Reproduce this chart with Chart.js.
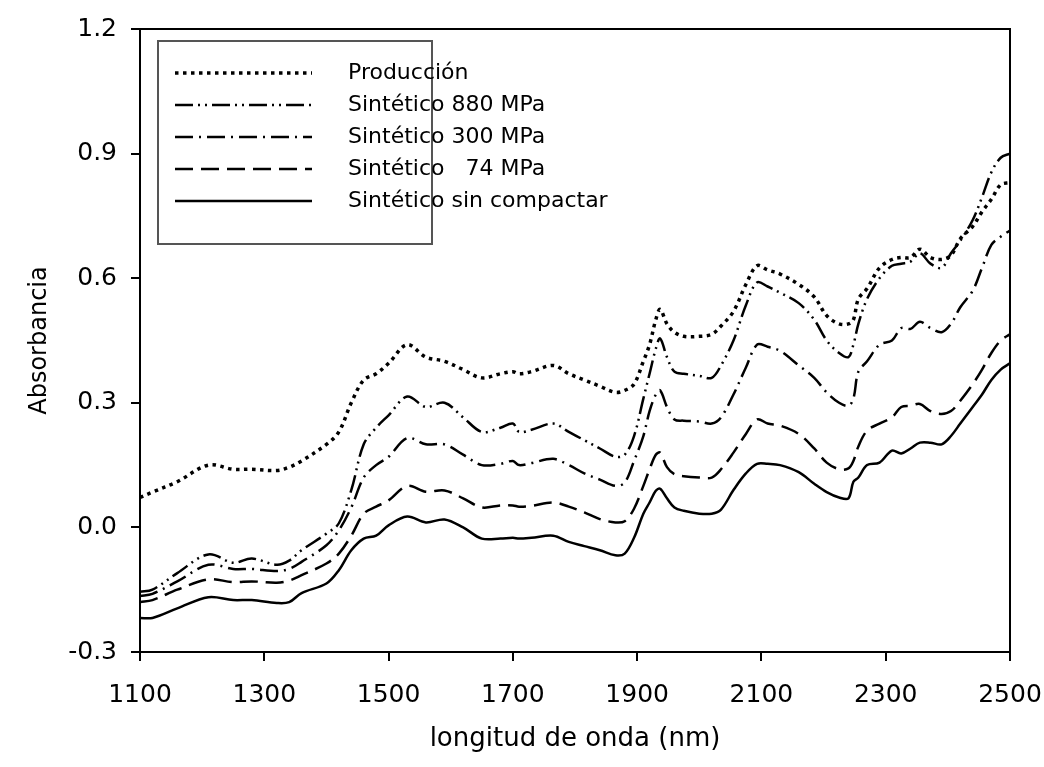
<!DOCTYPE html>
<html>
<head>
<meta charset="utf-8">
<script src="https://cdn.jsdelivr.net/npm/chart.js@4.4.1/dist/chart.umd.min.js"></script>
<style>
  html, body { margin: 0; padding: 0; background: #fff; }
  #wrap { width: 1044px; height: 767px; }
</style>
</head>
<body>
<div id="wrap"><canvas id="chart" width="1044" height="767"></canvas></div>
<script>
// longitudes de onda (nm)
const wavelengths = [1100,1120,1160,1210,1250,1280,1320,1340,1360,1400,1420,1440,1460,1480,1500,1530,1560,1590,1620,1650,
  1680,1700,1710,1730,1765,1790,1815,1840,1865,1880,1895,1910,1920,1930,1937,1948,1960,1975,2000,2020,
  2035,2055,2075,2093,2110,2130,2160,2185,2205,2225,2240,2248,2256,2270,2290,2310,2325,2340,2355,2372,
  2390,2405,2420,2440,2455,2470,2485,2500];

const produccion = [0.072,0.085,0.11,0.15,0.14,0.14,0.137,0.145,0.16,0.20,0.23,0.30,0.355,0.37,0.395,0.44,0.41,0.40,0.38,0.36,
  0.37,0.375,0.37,0.375,0.39,0.37,0.355,0.34,0.325,0.33,0.345,0.40,0.44,0.50,0.525,0.49,0.47,0.46,0.46,0.465,
  0.485,0.52,0.585,0.63,0.62,0.61,0.585,0.555,0.51,0.49,0.49,0.50,0.55,0.575,0.625,0.645,0.65,0.65,0.67,0.65,
  0.645,0.655,0.695,0.725,0.76,0.79,0.825,0.83];

const sint880 = [-0.155,-0.15,-0.11,-0.065,-0.085,-0.075,-0.09,-0.08,-0.055,-0.015,0.01,0.09,0.20,0.24,0.27,0.315,0.29,0.30,0.265,0.23,
  0.24,0.25,0.23,0.235,0.25,0.23,0.21,0.19,0.17,0.175,0.22,0.31,0.37,0.43,0.455,0.41,0.375,0.37,0.365,0.36,
  0.39,0.45,0.535,0.59,0.58,0.565,0.54,0.50,0.45,0.42,0.41,0.44,0.49,0.55,0.60,0.63,0.635,0.64,0.66,0.635,
  0.625,0.66,0.69,0.74,0.795,0.855,0.89,0.90];

const sint300 = [-0.165,-0.16,-0.13,-0.09,-0.10,-0.10,-0.105,-0.10,-0.083,-0.043,-0.007,0.048,0.12,0.15,0.17,0.215,0.20,0.20,0.175,0.15,
  0.153,0.16,0.15,0.155,0.165,0.15,0.13,0.115,0.10,0.108,0.16,0.22,0.28,0.32,0.33,0.29,0.26,0.257,0.255,0.25,
  0.265,0.32,0.385,0.44,0.435,0.425,0.39,0.36,0.325,0.30,0.293,0.31,0.375,0.40,0.44,0.45,0.48,0.478,0.495,0.48,
  0.47,0.49,0.53,0.57,0.625,0.68,0.70,0.715];

const sint74 = [-0.18,-0.175,-0.15,-0.125,-0.132,-0.13,-0.133,-0.128,-0.115,-0.087,-0.063,-0.02,0.033,0.05,0.065,0.10,0.086,0.089,0.07,0.048,
  0.053,0.053,0.05,0.052,0.06,0.05,0.036,0.02,0.012,0.015,0.045,0.10,0.14,0.175,0.18,0.145,0.128,0.123,0.12,0.12,
  0.14,0.18,0.225,0.26,0.25,0.245,0.225,0.19,0.156,0.14,0.142,0.16,0.195,0.233,0.25,0.265,0.29,0.293,0.297,0.28,
  0.273,0.28,0.305,0.345,0.38,0.42,0.45,0.465];

const sinCompactar = [-0.218,-0.218,-0.195,-0.168,-0.175,-0.175,-0.182,-0.18,-0.158,-0.135,-0.103,-0.055,-0.027,-0.02,0.005,0.026,0.012,0.019,0.0,-0.027,
  -0.027,-0.025,-0.027,-0.025,-0.02,-0.035,-0.045,-0.055,-0.067,-0.063,-0.025,0.033,0.06,0.088,0.093,0.07,0.048,0.04,0.033,0.033,
  0.043,0.09,0.13,0.153,0.153,0.15,0.133,0.105,0.085,0.072,0.07,0.11,0.12,0.15,0.156,0.185,0.178,0.19,0.204,0.204,
  0.20,0.22,0.25,0.29,0.32,0.355,0.38,0.395];

const seriesNames = ['Producción', 'Sintético 880 MPa', 'Sintético 300 MPa', 'Sintético \u200774 MPa', 'Sintético sin compactar'];
const seriesValues = [produccion, sint880, sint300, sint74, sinCompactar];
const seriesDash = [[3.5, 4.5], [18, 5, 2, 5, 2, 5], [18, 6, 2, 6], [18, 8], []];
const seriesWidth = [3.5, 2.5, 2.5, 2.5, 2.5];

const xTicks = [1100, 1300, 1500, 1700, 1900, 2100, 2300, 2500];
const yTicks = [-0.3, 0.0, 0.3, 0.6, 0.9, 1.2];

const FONT = 'DejaVu Sans';

// marco del área de trazado y leyenda con recuadro
const framePlugin = {
  id: 'frame',
  afterDraw(chart) {
    const { ctx, chartArea: a } = chart;
    ctx.save();
    ctx.strokeStyle = '#000';
    ctx.lineWidth = 2;
    ctx.setLineDash([]);
    ctx.strokeRect(a.left, a.top, a.right - a.left, a.bottom - a.top);

    // leyenda
    ctx.strokeStyle = '#555';
    ctx.strokeRect(158, 41, 274, 203);
    ctx.font = '22px "' + FONT + '"';
    ctx.fillStyle = '#000';
    ctx.textBaseline = 'middle';
    chart.data.datasets.forEach((ds, i) => {
      const y = 73 + i * 32;
      ctx.strokeStyle = '#000';
      ctx.lineWidth = ds.borderWidth;
      ctx.setLineDash(ds.borderDash);
      ctx.beginPath();
      ctx.moveTo(175, y);
      ctx.lineTo(312, y);
      ctx.stroke();
      ctx.setLineDash([]);
      ctx.fillText(ds.label, 348, y);
    });
    ctx.restore();
  }
};

new Chart(document.getElementById('chart'), {
  type: 'line',
  data: {
    datasets: seriesNames.map((name, i) => ({
      label: name,
      data: wavelengths.map((w, j) => ({ x: w, y: seriesValues[i][j] })),
      borderColor: '#000',
      borderWidth: seriesWidth[i],
      borderDash: seriesDash[i],
      borderCapStyle: 'butt',
      pointRadius: 0,
      tension: 0.35,
      fill: false
    }))
  },
  options: {
    responsive: false,
    animation: false,
    layout: { padding: { top: 28, right: 34, left: 0, bottom: 0 } },
    plugins: { legend: { display: false }, tooltip: { enabled: false } },
    scales: {
      x: {
        type: 'linear',
        min: 1100, max: 2500,
        afterBuildTicks: s => { s.ticks = xTicks.map(v => ({ value: v })); },
        afterFit: s => { s.height = 115; s.paddingLeft = 0; s.paddingRight = 0; },
        ticks: { color: '#000', font: { family: FONT, size: 25 }, padding: 19, maxRotation: 0, callback: v => String(v) },
        grid: { drawOnChartArea: false, drawTicks: true, tickLength: 9, color: '#000', lineWidth: 2 },
        border: { color: '#000', width: 2 },
        title: { display: true, text: 'longitud de onda (nm)', color: '#000', font: { family: FONT, size: 26 }, padding: { top: 0, bottom: 12 } }
      },
      y: {
        min: -0.3, max: 1.2,
        afterBuildTicks: s => { s.ticks = yTicks.map(v => ({ value: v })); },
        afterFit: s => { s.width = 140; },
        ticks: { color: '#000', font: { family: FONT, size: 25 }, padding: 14, callback: v => v.toFixed(1) },
        grid: { drawOnChartArea: false, drawTicks: true, tickLength: 9, color: '#000', lineWidth: 2 },
        border: { color: '#000', width: 2 },
        title: { display: true, text: 'Absorbancia', color: '#000', font: { family: FONT, size: 24 }, padding: { top: 25 } }
      }
    }
  },
  plugins: [framePlugin]
});
</script>
</body>
</html>
